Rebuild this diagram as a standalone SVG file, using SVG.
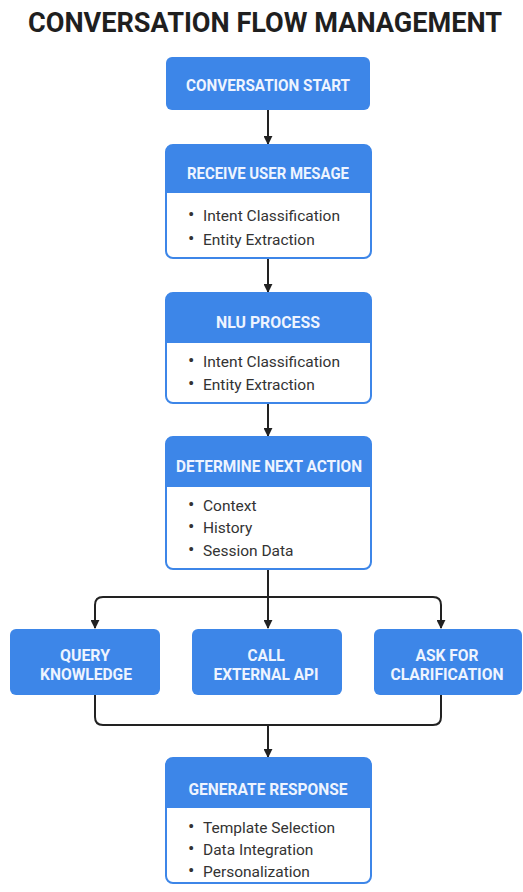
<svg xmlns="http://www.w3.org/2000/svg" width="523" height="892" viewBox="0 0 523 892">
<style>
.title{font-family:Roboto,"Liberation Sans",sans-serif;font-weight:bold;font-size:27px;fill:#1f1f1f}
.hd{font-family:Roboto,"Liberation Sans",sans-serif;font-weight:bold;font-size:16px;fill:#eef4ff;text-anchor:middle}
.bd{font-family:Roboto,"Liberation Sans",sans-serif;font-size:15.5px;fill:#333}
.bl{font-size:19px}
.blue{fill:#3d86e8}
.body{fill:#fff;stroke:#3d86e8;stroke-width:2}
.cn{fill:none;stroke:#222;stroke-width:2}
</style>
<defs>
<marker id="ah" viewBox="0 0 10 10" refX="9" refY="5" markerWidth="4.5" markerHeight="4.5" orient="auto" markerUnits="strokeWidth">
<path d="M0,0 L10,5 L0,10 z" fill="#222"/>
</marker>
</defs>
<rect width="523" height="892" fill="#fff"/>
<text class="title" x="265" y="32" text-anchor="middle" textLength="474" lengthAdjust="spacingAndGlyphs">CONVERSATION FLOW MANAGEMENT</text>

<g id="connectors">
<path class="cn" d="M268,110 V144" marker-end="url(#ah)"/>
<path class="cn" d="M268,258 V292" marker-end="url(#ah)"/>
<path class="cn" d="M268,403 V436" marker-end="url(#ah)"/>
<path class="cn" d="M268,569 V628" marker-end="url(#ah)"/>
<path class="cn" d="M268,597 H103 Q95,597 95,605 V628" marker-end="url(#ah)"/>
<path class="cn" d="M268,597 H433 Q441,597 441,605 V628" marker-end="url(#ah)"/>
<path class="cn" d="M95,695 V717 Q95,725 103,725 H433 Q441,725 441,717 V695"/>
<path class="cn" d="M268,725 V757" marker-end="url(#ah)"/>
</g>

<g id="start">
<rect class="blue" x="166" y="57" width="204" height="53" rx="6"/>
<text class="hd" x="268" y="91" textLength="164" lengthAdjust="spacingAndGlyphs">CONVERSATION START</text>
</g>

<g id="receive">
<rect class="body" x="166" y="145" width="205" height="113" rx="7"/>
<path class="blue" d="M166,152 Q166,145 173,145 H364 Q371,145 371,152 V193 H166 z"/>
<text class="hd" x="268" y="179" textLength="162" lengthAdjust="spacingAndGlyphs">RECEIVE USER MESAGE</text>
<text class="bd" y="221"><tspan class="bl" x="188">•</tspan><tspan x="203">Intent Classification</tspan></text>
<text class="bd" y="245"><tspan class="bl" x="188">•</tspan><tspan x="203">Entity Extraction</tspan></text>
</g>

<g id="nlu">
<rect class="body" x="166" y="293" width="205" height="110" rx="7"/>
<path class="blue" d="M166,300 Q166,293 173,293 H364 Q371,293 371,300 V343 H166 z"/>
<text class="hd" x="268" y="328" textLength="104" lengthAdjust="spacingAndGlyphs">NLU PROCESS</text>
<text class="bd" y="367"><tspan class="bl" x="188">•</tspan><tspan x="203">Intent Classification</tspan></text>
<text class="bd" y="390"><tspan class="bl" x="188">•</tspan><tspan x="203">Entity Extraction</tspan></text>
</g>

<g id="determine">
<rect class="body" x="166" y="437" width="205" height="132" rx="7"/>
<path class="blue" d="M166,444 Q166,437 173,437 H364 Q371,437 371,444 V487 H166 z"/>
<text class="hd" x="269" y="472" textLength="186" lengthAdjust="spacingAndGlyphs">DETERMINE NEXT ACTION</text>
<text class="bd" y="511"><tspan class="bl" x="188">•</tspan><tspan x="203">Context</tspan></text>
<text class="bd" y="533"><tspan class="bl" x="188">•</tspan><tspan x="203">History</tspan></text>
<text class="bd" y="556"><tspan class="bl" x="188">•</tspan><tspan x="203">Session Data</tspan></text>
</g>

<g id="query">
<rect class="blue" x="10" y="629" width="150" height="66" rx="6"/>
<text class="hd" x="85" y="661" textLength="50" lengthAdjust="spacingAndGlyphs">QUERY</text>
<text class="hd" x="86" y="680" textLength="92" lengthAdjust="spacingAndGlyphs">KNOWLEDGE</text>
</g>

<g id="call">
<rect class="blue" x="192" y="629" width="150" height="66" rx="6"/>
<text class="hd" x="266" y="661" textLength="37" lengthAdjust="spacingAndGlyphs">CALL</text>
<text class="hd" x="266" y="680" textLength="105" lengthAdjust="spacingAndGlyphs">EXTERNAL API</text>
</g>

<g id="ask">
<rect class="blue" x="374" y="629" width="148" height="66" rx="6"/>
<text class="hd" x="447" y="661" textLength="63" lengthAdjust="spacingAndGlyphs">ASK FOR</text>
<text class="hd" x="447" y="680" textLength="113" lengthAdjust="spacingAndGlyphs">CLARIFICATION</text>
</g>

<g id="generate">
<rect class="body" x="166" y="758" width="205" height="125" rx="7"/>
<path class="blue" d="M166,765 Q166,758 173,758 H364 Q371,758 371,765 V808 H166 z"/>
<text class="hd" x="268" y="795" textLength="159" lengthAdjust="spacingAndGlyphs">GENERATE RESPONSE</text>
<text class="bd" y="833"><tspan class="bl" x="188">•</tspan><tspan x="203">Template Selection</tspan></text>
<text class="bd" y="855"><tspan class="bl" x="188">•</tspan><tspan x="203">Data Integration</tspan></text>
<text class="bd" y="877"><tspan class="bl" x="188">•</tspan><tspan x="203">Personalization</tspan></text>
</g>
</svg>
